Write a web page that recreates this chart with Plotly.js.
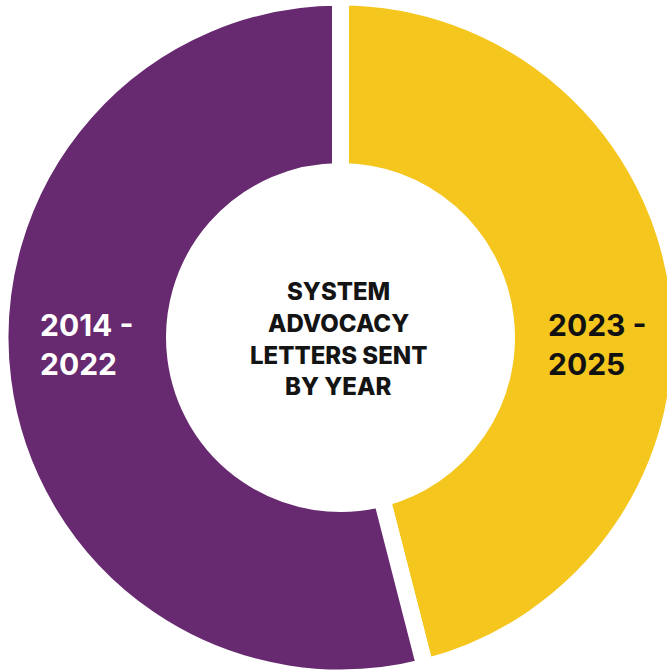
<!DOCTYPE html>
<html>
<head>
<meta charset="utf-8">
<script src="https://cdn.plot.ly/plotly-3.0.1.min.js"></script>
<style>
html,body{margin:0;padding:0;background:#fff;overflow:hidden;width:667px;height:671px;}
#chart{position:absolute;left:0;top:-3px;width:681px;height:681px;}
</style>
</head>
<body>
<div id="chart"></div>
<script>
// Data
const categories = ["2023 - 2025", "2014 - 2022"];
const values = [46, 54];
const colors = ["#F4C61E", "#672A70"];
const centerTitleLines = ["SYSTEM", "ADVOCACY", "LETTERS SENT", "BY YEAR"];
const leftLabelLines = ["2014 -", "2022"];
const rightLabelLines = ["2023 -", "2025"];

const W = 681, H = 681, TOP = -3;
function px(x){ return x / W; }
function py(y){ return 1 - (y - TOP) / H; }

const font = "Inter, 'Open Sans', sans-serif";
const annotations = [];
const centerY = [291.5, 323.5, 355, 386.5];
centerTitleLines.forEach((t, i) => {
  annotations.push({text: t, x: px(338), y: py(centerY[i]), xref: 'paper', yref: 'paper',
    xanchor: 'center', yanchor: 'middle', showarrow: false,
    font: {family: font, size: 24, color: '#141414', weight: 800}});
});
const sideY = [325, 363.5];
leftLabelLines.forEach((t, i) => {
  annotations.push({text: t, x: px(38), y: py(sideY[i]), xref: 'paper', yref: 'paper',
    xanchor: 'left', yanchor: 'middle', showarrow: false,
    font: {family: font, size: 30, color: '#ffffff', weight: 700}});
});
rightLabelLines.forEach((t, i) => {
  annotations.push({text: t, x: px(546), y: py(sideY[i]), xref: 'paper', yref: 'paper',
    xanchor: 'left', yanchor: 'middle', showarrow: false,
    font: {family: font, size: 30, color: '#111111', weight: 700}});
});

const data = [{
  type: 'pie',
  labels: categories,
  values: values,
  sort: false,
  direction: 'clockwise',
  rotation: 0,
  hole: 0.4875,
  marker: {colors: colors, line: {color: '#ffffff', width: 17}},
  textinfo: 'none',
  hoverinfo: 'skip',
  showlegend: false,
  domain: {x: [0, 1], y: [0, 1]}
}];

const layout = {
  width: W, height: H,
  margin: {l: 0, r: 0, t: 0, b: 0, pad: 0},
  paper_bgcolor: '#ffffff',
  plot_bgcolor: '#ffffff',
  showlegend: false,
  annotations: annotations
};

Plotly.newPlot('chart', data, layout, {staticPlot: true, displayModeBar: false});
</script>
</body>
</html>
